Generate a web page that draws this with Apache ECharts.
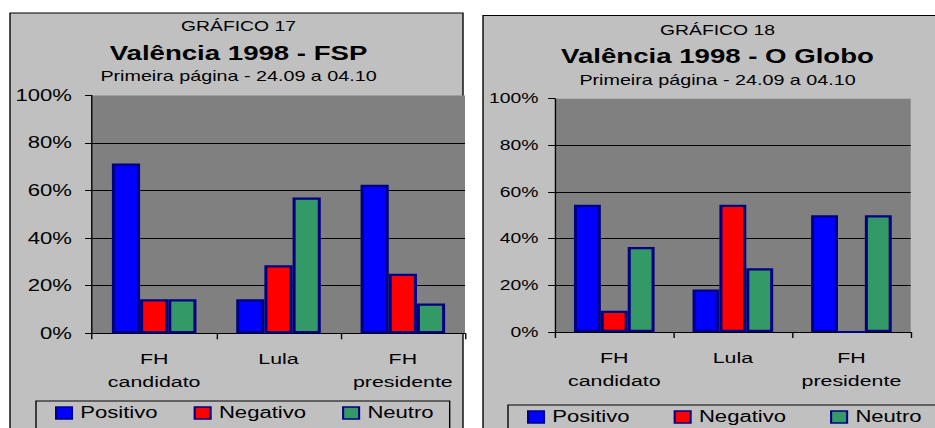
<!DOCTYPE html>
<html>
<head>
<meta charset="utf-8">
<script src="https://cdn.jsdelivr.net/npm/echarts@6/dist/echarts.min.js"></script>
<style>
  html, body { margin: 0; padding: 0; background: #fff; overflow: hidden; }
  #chart { height: 428px; transform-origin: 0 0; }
</style>
</head>
<body>
<div id="chart"></div>
<script>
// ---------- data ----------
const categories = ['FH\ncandidato', 'Lula', 'FH\npresidente']
const seriesNames = ['Positivo', 'Negativo', 'Neutro']

// Gráfico 17 - FSP
const fspPositivo = [71.4, 14.3, 62.5]
const fspNegativo = [14.3, 28.6, 25.0]
const fspNeutro = [14.3, 57.1, 12.5]

// Gráfico 18 - O Globo
const globoPositivo = [54.5, 18.2, 50.0]
const globoNegativo = [9.1, 54.5, 0]
const globoNeutro = [36.4, 27.3, 50.0]

// ---------- layout ----------
// the original picture is stretched sideways, so the chart is drawn narrower and scaled in x
const S = 1.38
const W = 935 / S
const ux = (x) => x / S
const el = document.getElementById('chart')
el.style.width = W + 'px'
el.style.transform = 'scaleX(' + S + ')'

const FONT = '"Liberation Sans", Arial, sans-serif'
const colors = ['#0000FF', '#FF0000', '#339966']

function bars(idx, values) {
  return values.map((data, i) => ({
    name: seriesNames[i],
    type: 'bar',
    xAxisIndex: idx,
    yAxisIndex: idx,
    data,
    barGap: '0%',
    barCategoryGap: '32%',
    itemStyle: { color: colors[i], borderColor: '#000080', borderWidth: 2.2 },
    emphasis: { disabled: true },
  }))
}

function xAxis(gridIndex) {
  return {
    type: 'category',
    gridIndex,
    data: categories,
    axisLine: { lineStyle: { color: '#000', width: 1 } },
    axisTick: { show: true, length: 6, lineStyle: { color: '#000' } },
    axisLabel: { color: '#000', fontSize: 15.5, lineHeight: 23, margin: 14, fontFamily: FONT, interval: 0 },
  }
}

function yAxis(gridIndex, fontSize, margin) {
  return {
    type: 'value',
    gridIndex,
    min: 0,
    max: 100,
    interval: 20,
    axisLine: { show: true, lineStyle: { color: '#000', width: 1 } },
    axisTick: { show: true, length: 5, lineStyle: { color: '#000' } },
    axisLabel: { formatter: '{value}%', color: '#000', fontSize, fontFamily: FONT, margin },
    splitLine: { show: true, showMaxLine: false, lineStyle: { color: '#000', width: 1 } },
  }
}

function legend(left, top, gap) {
  return {
    data: seriesNames,
    left: ux(left),
    top,
    width: ux(600),
    orient: 'horizontal',
    icon: 'rect',
    itemWidth: ux(16),
    itemHeight: 12,
    itemGap: ux(gap),
    padding: [4, ux(16), 12, ux(19)],
    borderColor: '#000',
    borderWidth: 1,
    itemStyle: { borderWidth: 1.5, borderColor: '#000080' },
    textStyle: { fontSize: 16, color: '#000', fontFamily: FONT, padding: [0, 0, 0, 1] },
    selectedMode: false,
  }
}

function text(x, y, str, size, weight) {
  return {
    type: 'text',
    x: ux(x),
    y,
    z: 100,
    style: {
      text: str,
      fill: '#000',
      fontSize: size,
      fontWeight: weight || 'normal',
      fontFamily: FONT,
      textAlign: 'center',
      textVerticalAlign: 'middle',
    },
  }
}

const chart = echarts.init(el, null, { renderer: 'svg' })
chart.setOption({
  animation: false,
  backgroundColor: '#fff',
  graphic: [
    {
      type: 'rect', z: -100,
      shape: { x: ux(10), y: 13, width: ux(453), height: 440 },
      style: { fill: '#C0C0C0', stroke: '#000', lineWidth: 1 },
    },
    {
      type: 'rect', z: -100,
      shape: { x: ux(483), y: 15.5, width: ux(500), height: 440 },
      style: { fill: '#C0C0C0', stroke: '#000', lineWidth: 1 },
    },
    text(238.5, 26.7, 'GRÁFICO 17', 14),
    text(238.5, 52.8, 'Valência 1998 - FSP', 20, 'bold'),
    text(238.5, 76, 'Primeira página - 24.09 a 04.10', 14.3),
    text(717.5, 30.7, 'GRÁFICO 18', 14),
    text(717.5, 56.3, 'Valência 1998 - O Globo', 20, 'bold'),
    text(717.5, 80.2, 'Primeira página - 24.09 a 04.10', 14.3),
  ],
  legend: [legend(36, 401, 36), legend(508, 405, 44)],
  grid: [
    {
      left: ux(92), top: 95.5, width: ux(373), height: 237.8,
      show: true, backgroundColor: '#808080', borderWidth: 0,
    },
    {
      left: ux(555), top: 98.7, width: ux(355.7), height: 233.3,
      show: true, backgroundColor: '#808080', borderWidth: 0,
    },
  ],
  xAxis: [xAxis(0), xAxis(1)],
  yAxis: [yAxis(0, 16, 14.5), yAxis(1, 14, 12)],
  series: [
    ...bars(0, [fspPositivo, fspNegativo, fspNeutro]),
    ...bars(1, [globoPositivo, globoNegativo, globoNeutro]),
  ],
})
</script>
</body>
</html>
